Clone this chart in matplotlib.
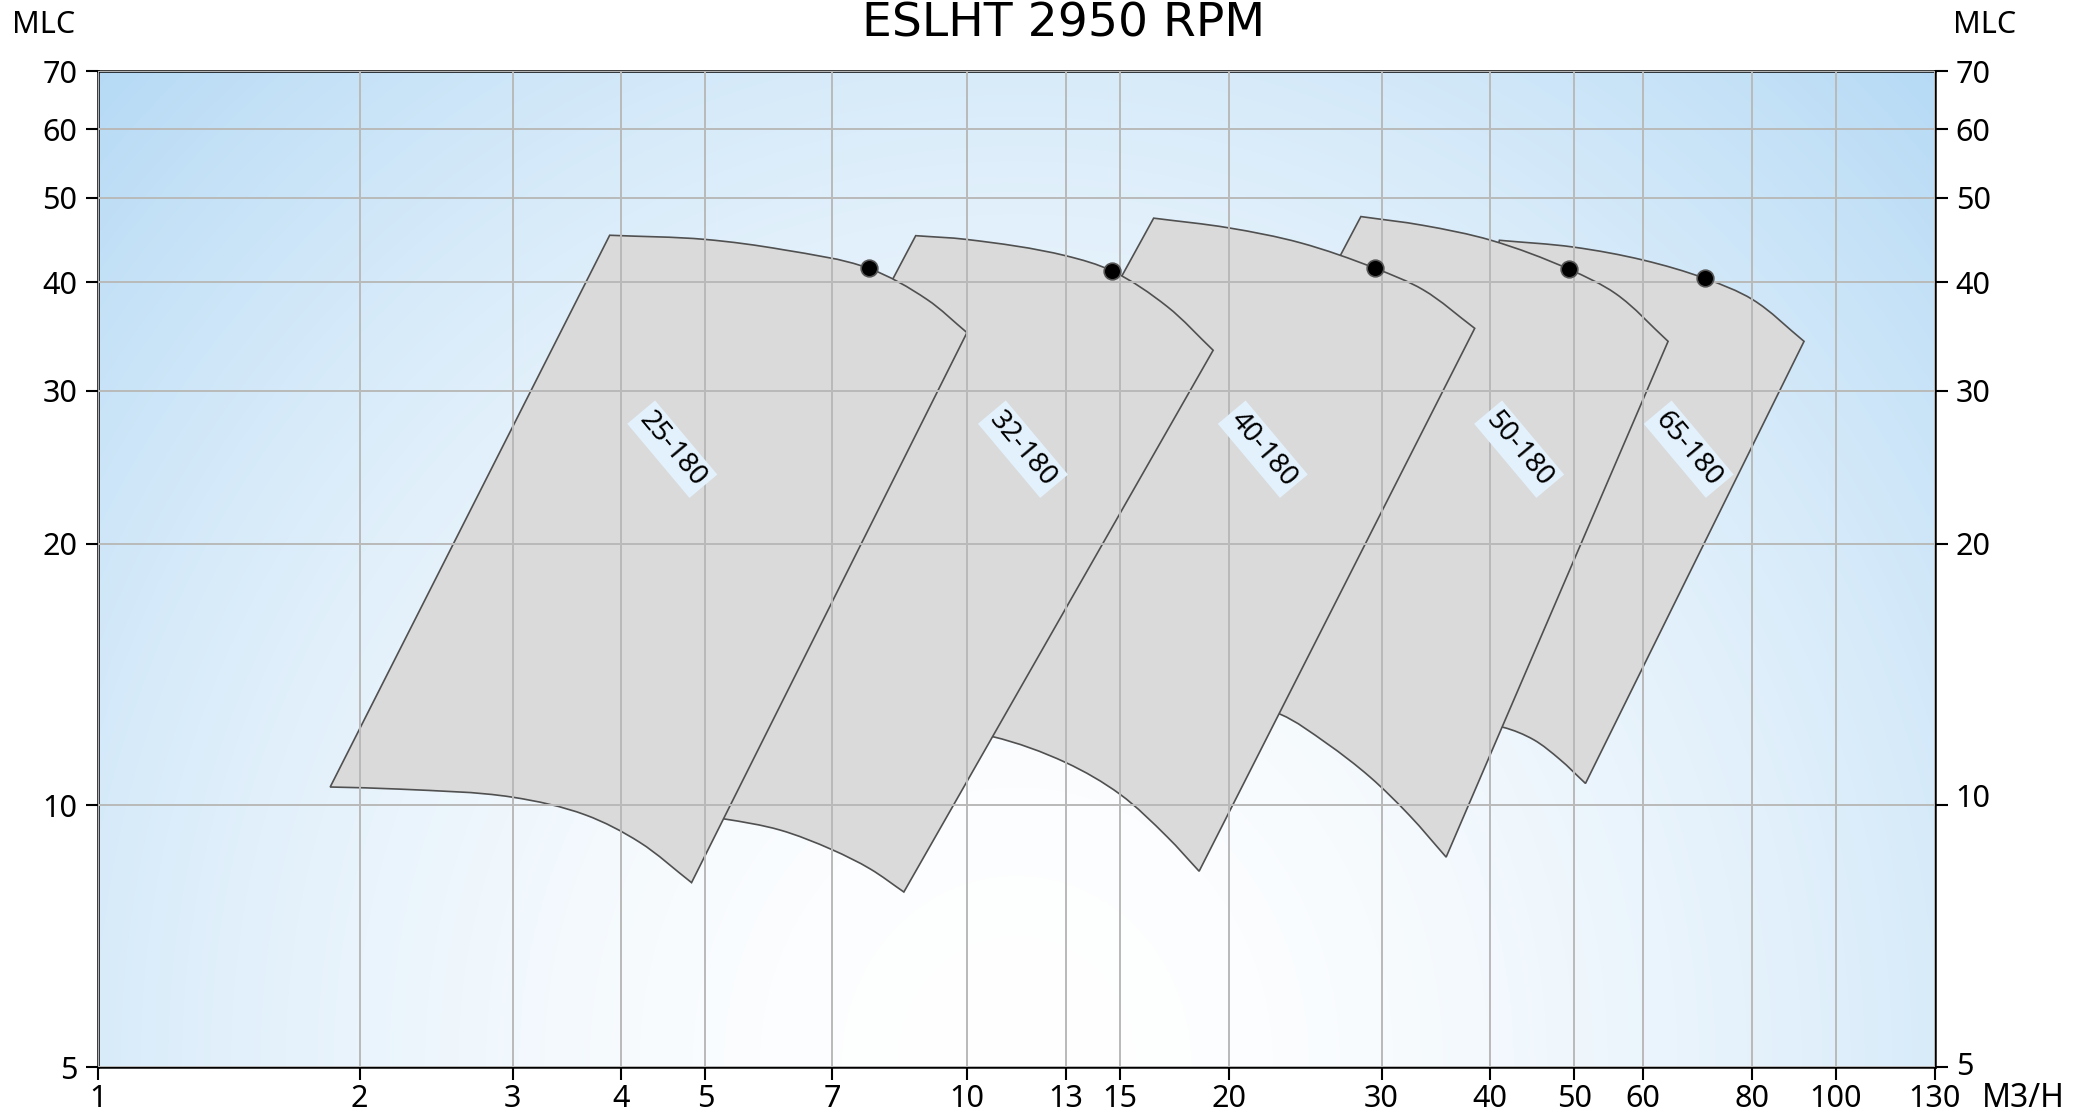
"""
ESLHT 2950 RPM pump range chart (log-log), head vs flow
"""
import numpy as np
import matplotlib.pyplot as plt
from matplotlib.colors import to_rgb
from matplotlib.path import Path
from matplotlib.patches import PathPatch
from matplotlib.transforms import ScaledTranslation

plt.rcParams['font.family'] = ['Noto Sans', 'DejaVu Sans']

x_ticks = [1, 2, 3, 4, 5, 7, 10, 13, 15, 20, 30, 40, 50, 60, 80, 100, 130]
y_ticks = [5, 10, 20, 30, 40, 50, 60, 70]

pump_names = ['25-180', '32-180', '40-180', '50-180', '65-180']

# max impeller curve, flow (m3/h) and head (m), left to right
top_q = [
    [3.88, 5.0, 6.14, 7.71, 9.0, 10.0],
    [8.73, 9.99, 13.0, 14.7, 17.0, 19.2],
    [16.4, 20.0, 24.2, 29.5, 33.5, 38.4],
    [28.4, 33.5, 40.1, 49.3, 55.8, 64.1],
    [41.0, 49.9, 60.1, 70.7, 80.2, 91.9],
]
top_h = [
    [45.3, 44.8, 43.6, 41.5, 38.2, 35.0],
    [45.25, 44.8, 42.9, 41.2, 37.5, 33.4],
    [47.4, 46.2, 44.4, 41.5, 39.2, 35.4],
    [47.6, 46.5, 44.7, 41.4, 38.8, 34.2],
    [44.7, 43.9, 42.4, 40.4, 38.2, 34.2],
]
# min impeller curve, left to right (left ends sit under the previous range)
bot_q = [
    [1.85, 2.23, 3.0, 3.64, 4.2, 4.82],
    [3.93, 5.25, 6.09, 7.0, 7.74, 8.46],
    [7.88, 10.7, 13.0, 15.0, 17.0, 18.5],
    [15.0, 22.95, 25.9, 29.1, 32.3, 35.6],
    [30.0, 41.4, 44.9, 48.1, 51.5],
]
bot_h = [
    [10.5, 10.44, 10.22, 9.75, 9.07, 8.15],
    [10.0, 9.65, 9.37, 8.89, 8.45, 7.95],
    [12.5, 12.0, 11.2, 10.3, 9.2, 8.4],
    [14.2, 12.73, 11.8, 10.78, 9.74, 8.72],
    [12.8, 12.3, 11.9, 11.3, 10.6],
]
# best efficiency points
best_q = [7.71, 14.7, 29.5, 49.3, 70.7]
best_h = [41.5, 41.2, 41.5, 41.4, 40.4]
# label anchor points
label_q = [4.58, 11.6, 21.9, 43.2, 67.7]
label_h = [25.7, 25.7, 25.7, 25.7, 25.7]


def smooth_curve(q, h):
    """smooth bezier line through the points, built in log space"""
    p = np.log10(np.column_stack([q, h]))
    n = len(p)
    seg = np.diff(p, axis=0)
    seg_len = np.hypot(seg[:, 0], seg[:, 1])
    unit = seg / seg_len[:, None]
    tang = np.zeros_like(p)
    tang[0] = unit[0]
    tang[-1] = unit[-1]
    for k in range(1, n - 1):
        v = unit[k - 1] + unit[k]
        tang[k] = v / np.hypot(*v)
    verts = [p[0]]
    codes = [Path.MOVETO]
    for k in range(n - 1):
        L = seg_len[k] / 3
        verts += [p[k] + tang[k] * L, p[k + 1] - tang[k + 1] * L, p[k + 1]]
        codes += [Path.CURVE4] * 3
    return [10 ** v for v in verts], codes


fig = plt.figure(figsize=(20.9, 11.2), dpi=100)
ax = fig.add_axes([0.0469, 0.0473, 0.8789, 0.8893])
ax.set_xscale('log')
ax.set_yscale('log')

# radial gradient background
yy, xx = np.mgrid[0:1:300j, 0:1:600j]
d = np.sqrt(((xx - 0.5) / 0.5) ** 2 + yy ** 2) / np.sqrt(2)
t = np.clip(d, 0, 1) ** 1.8
edge = np.array(to_rgb('#b6daf5'))
bg = (1 - t)[..., None] * np.ones(3) + t[..., None] * edge
ax.imshow(bg, extent=(0, 1, 0, 1), transform=ax.transAxes, origin='lower',
          aspect='auto', zorder=0, interpolation='bilinear')

for i in range(len(pump_names)):
    top_v, top_c = smooth_curve(top_q[i], top_h[i])
    bot_v, bot_c = smooth_curve(bot_q[i][::-1], bot_h[i][::-1])
    verts = top_v + bot_v + [top_v[0]]
    codes = top_c + [Path.LINETO] + bot_c[1:] + [Path.CLOSEPOLY]
    patch = PathPatch(Path(verts, codes), facecolor='#dadada', edgecolor='#505050',
                      linewidth=1.2, zorder=1.5 - i * 0.1)
    ax.add_patch(patch)
    ax.text(label_q[i], label_h[i], pump_names[i], rotation=-50, fontsize=20,
            ha='center', va='center', zorder=4,
            bbox=dict(boxstyle='square,pad=0.15', facecolor='#e3f1fc', edgecolor='none'))

ax.plot(best_q, best_h, 'o', color='black', markersize=12, markeredgecolor='#555555',
        markeredgewidth=1.2, zorder=3)

ax.set_xlim(1, 130)
ax.set_ylim(5, 70)
ax.set_xticks(x_ticks)
ax.set_xticklabels([str(v) for v in x_ticks])
ax.set_yticks(y_ticks)
ax.set_yticklabels([str(v) for v in y_ticks])
ax.minorticks_off()
ax.set_axisbelow(False)
ax.grid(True, color='#b9b9b9', linewidth=1.4)

ax.tick_params(axis='both', which='major', labelsize=22, length=9, width=1.5,
               direction='out', color='black')
ax.tick_params(axis='y', right=True, labelright=True, pad=6)
ax.tick_params(axis='x', pad=3)
for s in ax.spines.values():
    s.set_linewidth(1.8)
    s.set_color('black')

# right-hand labels for 10 and 5 sit a little above their ticks
for tick, val in zip(ax.yaxis.get_major_ticks(), y_ticks):
    shift = {10: 0.10, 5: 0.04}.get(val, 0)
    if shift:
        tick.label2.set_transform(tick.label2.get_transform()
                                  + ScaledTranslation(0, shift, fig.dpi_scale_trans))

fig.text(0.5091, 0.979, 'ESLHT 2950 RPM', fontsize=34, ha='center', va='center',
         family='DejaVu Sans')
fig.text(0.021, 0.978, 'MLC', fontsize=22, ha='center', va='center')
fig.text(0.9495, 0.978, 'MLC', fontsize=22, ha='center', va='center')
fig.text(0.9485, 0.0195, 'M3/H', fontsize=23, ha='left', va='center')

plt.savefig('out.png')
